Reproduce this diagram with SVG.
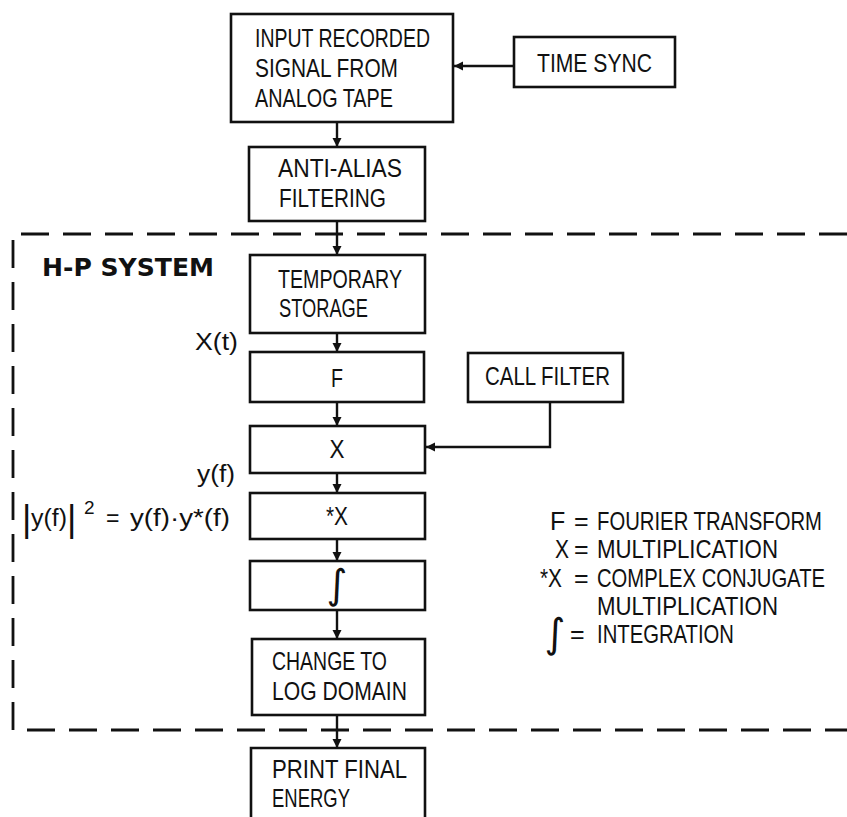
<svg xmlns="http://www.w3.org/2000/svg" width="847" height="817" viewBox="0 0 847 817">
  <defs>
    <style>
      .box { fill: #fff; stroke: #111; stroke-width: 2.6; }
      .wire { fill: none; stroke: #111; stroke-width: 2.4; }
      .frame { fill: none; stroke: #111; stroke-width: 2.8; stroke-dasharray: 28 14; }
      text { font-family: "Liberation Sans", Arial, sans-serif; fill: #111; font-size: 23px; }
      .lbl { font-size: 25px; }
      .key { font-size: 21px; }
      .title { font-family: "DejaVu Sans", sans-serif; font-weight: bold; font-size: 24px; }
      .sym { font-family: "DejaVu Sans", sans-serif; font-size: 40px; }
      .bar { font-size: 36px; }
      .sup { font-size: 19px; }
    </style>
    <marker id="arr" viewBox="0 0 10 10" refX="10" refY="5" markerWidth="9" markerHeight="10" markerUnits="userSpaceOnUse" orient="auto">
      <path d="M0,0 L10,5 L0,10 Z" fill="#111"/>
    </marker>
  </defs>

  <!-- H-P system boundary -->
  <path class="frame" d="M847,234 H13 V730 H847"/>
  <text class="title" x="42" y="276" textLength="172" lengthAdjust="spacingAndGlyphs">H-P SYSTEM</text>

  <!-- connectors -->
  <g id="connectors">
    <line class="wire" x1="514" y1="66" x2="454" y2="66" marker-end="url(#arr)"/>
    <line class="wire" x1="337" y1="122" x2="337" y2="147" marker-end="url(#arr)"/>
    <line class="wire" x1="337" y1="221" x2="337" y2="255" marker-end="url(#arr)"/>
    <line class="wire" x1="337" y1="333" x2="337" y2="352" marker-end="url(#arr)"/>
    <line class="wire" x1="337" y1="402" x2="337" y2="426" marker-end="url(#arr)"/>
    <path class="wire" d="M550,402 V447 H426" marker-end="url(#arr)"/>
    <line class="wire" x1="337" y1="473" x2="337" y2="493" marker-end="url(#arr)"/>
    <line class="wire" x1="337" y1="539" x2="337" y2="561" marker-end="url(#arr)"/>
    <line class="wire" x1="337" y1="610" x2="337" y2="639" marker-end="url(#arr)"/>
    <line class="wire" x1="337" y1="715" x2="337" y2="748" marker-end="url(#arr)"/>
  </g>

  <g id="input">
    <rect class="box" x="231" y="14" width="222" height="108"/>
    <text class="lbl" x="255" y="47" textLength="175" lengthAdjust="spacingAndGlyphs">INPUT RECORDED</text>
    <text class="lbl" x="255" y="77" textLength="143" lengthAdjust="spacingAndGlyphs">SIGNAL FROM</text>
    <text class="lbl" x="255" y="107" textLength="138" lengthAdjust="spacingAndGlyphs">ANALOG TAPE</text>
  </g>

  <g id="timesync">
    <rect class="box" x="514" y="37" width="161" height="50"/>
    <text class="lbl" x="537" y="72" textLength="115" lengthAdjust="spacingAndGlyphs">TIME SYNC</text>
  </g>

  <g id="antialias">
    <rect class="box" x="249" y="147" width="176" height="74"/>
    <text class="lbl" x="278" y="177" textLength="124" lengthAdjust="spacingAndGlyphs">ANTI-ALIAS</text>
    <text class="lbl" x="279" y="207" textLength="107" lengthAdjust="spacingAndGlyphs">FILTERING</text>
  </g>

  <g id="storage">
    <rect class="box" x="250" y="255" width="175" height="78"/>
    <text class="lbl" x="278" y="288" textLength="124" lengthAdjust="spacingAndGlyphs">TEMPORARY</text>
    <text class="lbl" x="279" y="317" textLength="89" lengthAdjust="spacingAndGlyphs">STORAGE</text>
  </g>

  <text x="195" y="350" textLength="43" lengthAdjust="spacingAndGlyphs">X(t)</text>

  <g id="fourier">
    <rect class="box" x="250" y="352" width="174" height="50"/>
    <text class="lbl" x="337" y="387" text-anchor="middle" textLength="12" lengthAdjust="spacingAndGlyphs">F</text>
  </g>

  <g id="callfilter">
    <rect class="box" x="468" y="353" width="155" height="49"/>
    <text class="lbl" x="485" y="385" textLength="125" lengthAdjust="spacingAndGlyphs">CALL FILTER</text>
  </g>

  <g id="multiply">
    <rect class="box" x="250" y="426" width="175" height="47"/>
    <text class="lbl" x="337" y="458" text-anchor="middle" textLength="15" lengthAdjust="spacingAndGlyphs">X</text>
  </g>

  <text x="197" y="482" textLength="38" lengthAdjust="spacingAndGlyphs">y(f)</text>

  <!-- |y(f)|^2 = y(f)·y*(f) -->
  <g id="power">
    <text class="bar" x="22" y="531">|</text>
    <text x="31" y="526" textLength="36" lengthAdjust="spacingAndGlyphs">y(f)</text>
    <text class="bar" x="67" y="531">|</text>
    <text class="sup" x="84" y="514">2</text>
    <text x="106" y="526">=</text>
    <text x="130" y="526" textLength="100" lengthAdjust="spacingAndGlyphs">y(f)·y*(f)</text>
  </g>

  <g id="conjmult">
    <rect class="box" x="250" y="493" width="175" height="46"/>
    <text class="lbl" x="337" y="525" text-anchor="middle" textLength="22" lengthAdjust="spacingAndGlyphs">*X</text>
  </g>

  <g id="integrate">
    <rect class="box" x="250" y="561" width="175" height="49"/>
    <text class="sym" x="337" y="598" text-anchor="middle">∫</text>
  </g>

  <g id="logdomain">
    <rect class="box" x="252" y="639" width="173" height="76"/>
    <text class="lbl" x="272" y="670" textLength="115" lengthAdjust="spacingAndGlyphs">CHANGE TO</text>
    <text class="lbl" x="272" y="700" textLength="135" lengthAdjust="spacingAndGlyphs">LOG DOMAIN</text>
  </g>

  <g id="print">
    <path class="box" d="M251,822 V748 H425 V822"/>
    <text class="lbl" x="272" y="778" textLength="135" lengthAdjust="spacingAndGlyphs">PRINT FINAL</text>
    <text class="lbl" x="272" y="807" textLength="78" lengthAdjust="spacingAndGlyphs">ENERGY</text>
  </g>

  <!-- legend: key lettering is stretched vertically to match the tall stencil style -->
  <g id="legend">
    <text class="lbl" x="550" y="530">F</text>
    <text class="lbl" x="574" y="530">=</text>
    <g transform="translate(597,530) scale(1,1.2)">
      <text class="key" x="0" y="0" textLength="225" lengthAdjust="spacingAndGlyphs">FOURIER TRANSFORM</text>
    </g>
    <text class="lbl" x="555" y="558" textLength="14" lengthAdjust="spacingAndGlyphs">X</text>
    <text class="lbl" x="574" y="558">=</text>
    <g transform="translate(597,558) scale(1,1.2)">
      <text class="key" x="0" y="0" textLength="181" lengthAdjust="spacingAndGlyphs">MULTIPLICATION</text>
    </g>
    <text class="lbl" x="540" y="587" textLength="22" lengthAdjust="spacingAndGlyphs">*X</text>
    <text class="lbl" x="574" y="587">=</text>
    <g transform="translate(597,587) scale(1,1.2)">
      <text class="key" x="0" y="0" textLength="228" lengthAdjust="spacingAndGlyphs">COMPLEX CONJUGATE</text>
    </g>
    <g transform="translate(597,615) scale(1,1.2)">
      <text class="key" x="0" y="0" textLength="181" lengthAdjust="spacingAndGlyphs">MULTIPLICATION</text>
    </g>
    <text class="sym" x="555" y="647" text-anchor="middle">∫</text>
    <text class="lbl" x="570" y="643">=</text>
    <g transform="translate(597,643) scale(1,1.2)">
      <text class="key" x="0" y="0" textLength="137" lengthAdjust="spacingAndGlyphs">INTEGRATION</text>
    </g>
  </g>
</svg>
